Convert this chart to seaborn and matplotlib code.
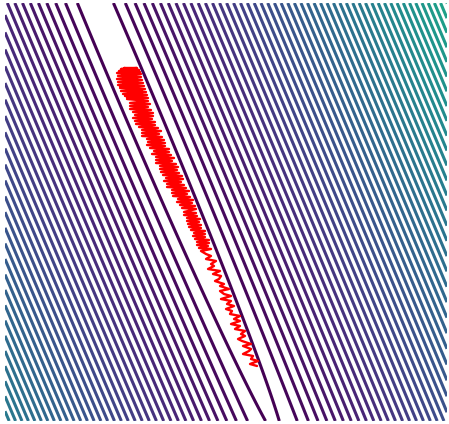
import numpy as np
import pandas as pd
import matplotlib
matplotlib.use("Agg")
import matplotlib.pyplot as plt
import seaborn as sns

sns.set_theme(style="white")

# Loss surface parameters (pixel-like parameter space, y axis pointing down)
center = (128.0, 80.0)          # location of the minimum
valley_dir = (174.0, 410.0)     # direction of the long, flat valley
smooth_sq = 564.0               # curvature scale near the minimum
valley_weight = 0.001812        # weak curvature along the valley
growth_power = 0.557            # slightly super-linear growth far from the valley

# Contour levels
level_start = 42.9
level_step = 12.17
level_count = 84

# Optimiser trajectory (start at the lower end, finish around the minimum)
path_x = [257, 250, 258, 251, 253, 243, 249, 251, 243, 251, 242, 238, 245, 241,
          245, 235, 240, 231, 240, 234, 240, 230, 232, 226, 234, 227, 231, 221,
          231, 224, 220, 229, 220, 224, 215, 219, 221, 213, 220, 208, 214, 211,
          216, 206, 211, 206, 201,
          211, 199, 208, 197, 209, 197, 209, 195, 205, 193, 205, 194, 205, 191,
          201, 189, 201, 188, 199, 187, 200, 187, 197, 184, 196, 184,
          196, 182, 195, 180, 192, 177, 193, 178, 190, 173, 187, 172, 189, 172,
          186, 167, 184, 167, 181, 164, 183, 166, 182, 163, 179, 161, 177, 160,
          178, 160, 176, 156, 172, 156, 174, 156, 171, 152, 169, 154, 169, 150,
          165, 147, 165, 148, 164, 147, 162, 142, 159, 142, 161, 142, 158, 139,
          155, 136, 155, 135, 152, 133, 153, 135, 153, 133, 151, 130, 148, 130,
          150, 130, 148,
          127, 148, 125, 147, 123, 146, 121, 145, 120, 144, 118, 143, 118, 142,
          117, 141, 118, 141, 117, 140, 119, 139, 121, 137, 124, 133, 122, 138,
          120, 143, 127, 131, 136, 128]
path_y = [366, 364, 361, 359, 356, 354, 351, 349, 346, 344, 341, 339, 336, 334,
          331, 329, 326, 324, 321, 319, 316, 314, 311, 309, 306, 304, 301, 299,
          296, 294, 291, 289, 286, 284, 281, 279, 276, 274, 271, 269, 266, 264,
          261, 259, 256, 254, 251,
          249, 248, 246, 245, 243, 242, 240, 239, 237, 236, 234, 233, 231, 230,
          228, 227, 225, 224, 222, 221, 219, 218, 216, 215, 213, 212,
          209, 208, 206, 205, 203, 202, 200, 199, 197, 196, 194, 193, 191, 190,
          188, 187, 185, 184, 182, 181, 179, 178, 176, 175, 173, 172, 170, 169,
          167, 166, 164, 163, 161, 160, 158, 157, 155, 154, 152, 151, 149, 148,
          146, 145, 143, 142, 140, 139, 137, 136, 134, 133, 131, 130, 128, 127,
          125, 124, 122, 121, 119, 118, 116, 115, 113, 112, 110, 109, 107, 106,
          104, 103, 101,
          99, 98, 96, 95, 94, 92, 91, 89, 88, 86, 85, 83, 82, 80,
          79, 77, 76, 74, 73, 72, 71, 70, 69, 68, 68, 69, 74, 80,
          86, 92, 97, 86, 75, 80]

x_range = (5, 447)
y_range = (3, 421)

fig = plt.figure(figsize=(4.49, 4.24), dpi=100)
ax = fig.add_axes([5 / 449, 3 / 424, 442 / 449, 418 / 424])

gx = np.linspace(x_range[0], x_range[1], 900)
gy = np.linspace(y_range[0], y_range[1], 900)
X, Y = np.meshgrid(gx, gy)

d = np.array(valley_dir) / np.hypot(*valley_dir)
n = np.array([d[1], -d[0]])
dx = X - center[0]
dy = Y - center[1]
u = dx * n[0] + dy * n[1]
v = dx * d[0] + dy * d[1]
Z = (smooth_sq + u ** 2 + valley_weight * v ** 2) ** growth_power

levels = level_start + level_step * np.arange(level_count)
ax.contour(X, Y, Z, levels=levels, cmap="viridis",
           vmin=levels[0], vmax=levels[-1], linewidths=2.2)

traj = pd.DataFrame({"x": path_x, "y": path_y})
sns.lineplot(data=traj, x="x", y="y", sort=False, estimator=None,
             color="#ff0000", linewidth=1.7, ax=ax, zorder=5)

ax.set_xlim(*x_range)
ax.set_ylim(y_range[1], y_range[0])
ax.axis("off")

fig.savefig("out.png", dpi=100)
